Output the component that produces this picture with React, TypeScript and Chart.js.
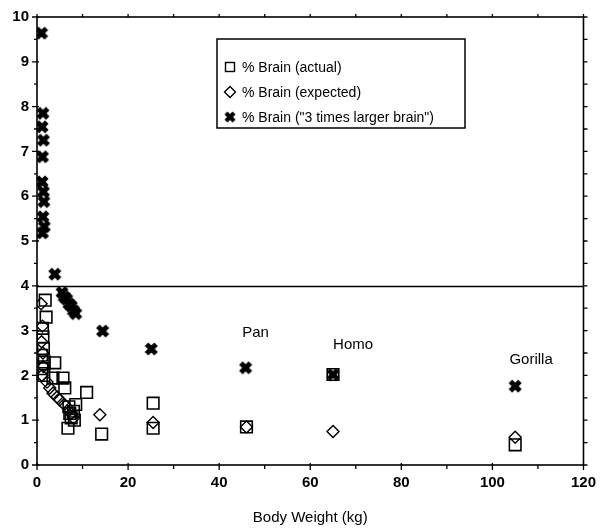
import React, { useEffect, useRef } from 'react';
import { Chart, registerables } from 'chart.js';

Chart.register(...registerables);

// % Brain (actual)
const actualX = [1.2, 1.8, 2.0, 1.3, 1.4, 1.0, 1.6, 1.1, 1.5, 3.9, 3.5, 5.7, 6.1, 10.9, 7.0, 8.0, 7.5, 8.5, 7.2, 8.2, 6.8, 14.2, 25.5, 25.5, 46, 65, 105];
const actualY = [3.05, 3.68, 3.3, 2.86, 2.6, 2.45, 2.3, 2.15, 2.0, 2.28, 1.94, 1.94, 1.72, 1.62, 1.3, 1.2, 1.05, 1.35, 1.15, 1.0, 0.82, 0.69, 1.38, 0.82, 0.85, 2.02, 0.45];

// % Brain (expected)
const expectedX = [0.9, 1.2, 1.0, 1.3, 1.4, 1.1, 2.2, 2.8, 3.5, 4.4, 5.0, 6.0, 7.0, 7.5, 8.0, 13.8, 25.5, 46, 65, 105];
const expectedY = [3.6, 3.1, 2.75, 2.5, 2.2, 2.0, 1.85, 1.72, 1.6, 1.52, 1.45, 1.35, 1.25, 1.15, 1.05, 1.12, 0.95, 0.85, 0.75, 0.62];

// % Brain ("3 times larger brain")
const tripleX = [1.0, 1.3, 1.1, 1.4, 1.2, 1.1, 1.4, 1.5, 1.3, 1.6, 1.2, 3.9, 5.5, 6.0, 6.5, 7.0, 7.5, 8.0, 8.5, 14.4, 25.1, 45.8, 65, 105];
const tripleY = [9.64, 7.85, 7.55, 7.25, 6.88, 6.32, 6.1, 5.88, 5.54, 5.32, 5.18, 4.26, 3.85, 3.75, 3.7, 3.6, 3.55, 3.45, 3.38, 2.99, 2.59, 2.17, 2.02, 1.76];

const seriesLabels = ['% Brain (actual)', '% Brain (expected)', '% Brain ("3 times larger brain")'];

const referenceLine = 4;

const annotationTexts = ['Pan', 'Homo', 'Gorilla'];
const annotationX = [48, 69.4, 108.5];
const annotationY = [2.95, 2.68, 2.34];

const xTickStep = 20;
const yTickStep = 1;

const FONT = '"Liberation Sans", Arial, sans-serif';

function toPoints(xs: number[], ys: number[]) {
  return xs.map((x, i) => ({ x, y: ys[i] }));
}

function makeCross(size: number): HTMLCanvasElement {
  const c = document.createElement('canvas');
  c.width = size;
  c.height = size;
  const g = c.getContext('2d')!;
  g.strokeStyle = '#000';
  g.lineWidth = size * 0.36;
  g.lineCap = 'butt';
  const m = size * 0.16;
  g.beginPath();
  g.moveTo(m, m);
  g.lineTo(size - m, size - m);
  g.moveTo(size - m, m);
  g.lineTo(m, size - m);
  g.stroke();
  g.fillStyle = '#000';
  g.fillRect(size * 0.28, size * 0.28, size * 0.44, size * 0.44);
  return c;
}

export default function App() {
  const ref = useRef<HTMLCanvasElement | null>(null);

  useEffect(() => {
    if (!ref.current) return;
    const cross = makeCross(14);

    const framePlugin = {
      id: 'frame',
      beforeDatasetsDraw(chart: any) {
        const { ctx, chartArea: a, scales } = chart;
        const xs = scales.x;
        const ys = scales.y;
        ctx.save();
        ctx.strokeStyle = '#000';
        ctx.lineWidth = 1.6;
        const yr = Math.round(ys.getPixelForValue(referenceLine)) + 0.5;
        ctx.beginPath();
        ctx.moveTo(a.left, yr);
        ctx.lineTo(a.right, yr);
        ctx.stroke();
        ctx.strokeRect(a.left, a.top, a.right - a.left, a.bottom - a.top);
        ctx.lineWidth = 1.3;
        ctx.beginPath();
        for (let v = xs.min; v <= xs.max + 1e-6; v += 10) {
          const px = xs.getPixelForValue(v);
          const major = Math.abs(v % 20) < 1e-6;
          ctx.moveTo(px, a.bottom - (major ? 2 : 0));
          ctx.lineTo(px, a.bottom + (major ? 5 : 4));
          ctx.moveTo(px, a.top);
          ctx.lineTo(px, a.top - 3);
        }
        for (let v = ys.min; v <= ys.max + 1e-6; v += 0.5) {
          const py = ys.getPixelForValue(v);
          const major = Math.abs(v % 1) < 1e-6;
          ctx.moveTo(a.left - (major ? 5 : 3), py);
          ctx.lineTo(a.left + (major ? 2 : 0), py);
          ctx.moveTo(a.right, py);
          ctx.lineTo(a.right + 4, py);
        }
        ctx.stroke();
        ctx.restore();
      },
      afterDatasetsDraw(chart: any) {
        const { ctx, chartArea: a, scales } = chart;
        ctx.save();
        ctx.fillStyle = '#000';
        ctx.textBaseline = 'middle';
        ctx.textAlign = 'center';
        ctx.font = `15px ${FONT}`;
        annotationTexts.forEach((t, i) => {
          ctx.fillText(t, scales.x.getPixelForValue(annotationX[i]), scales.y.getPixelForValue(annotationY[i]));
        });
        const lx = a.left + 180;
        const ly = a.top + 22;
        const lw = 248;
        const lh = 89;
        ctx.fillStyle = '#fff';
        ctx.fillRect(lx, ly, lw, lh);
        ctx.strokeStyle = '#000';
        ctx.lineWidth = 1.5;
        ctx.strokeRect(lx, ly, lw, lh);
        ctx.font = `14px ${FONT}`;
        ctx.textAlign = 'left';
        ctx.fillStyle = '#000';
        const rows = [ly + 28, ly + 53, ly + 78];
        const mx = lx + 13;
        rows.forEach((ry, i) => {
          ctx.lineWidth = 1.4;
          if (i === 0) {
            ctx.strokeRect(mx - 4.5, ry - 4.5, 9, 9);
          } else if (i === 1) {
            ctx.beginPath();
            ctx.moveTo(mx, ry - 5.5);
            ctx.lineTo(mx + 5.5, ry);
            ctx.lineTo(mx, ry + 5.5);
            ctx.lineTo(mx - 5.5, ry);
            ctx.closePath();
            ctx.stroke();
          } else {
            ctx.drawImage(cross, mx - 6, ry - 6, 12, 12);
          }
          ctx.fillText(seriesLabels[i], mx + 12, ry + 1);
        });
        ctx.restore();
      },
    };

    const chart = new Chart(ref.current, {
      type: 'scatter',
      data: {
        datasets: [
          {
            label: seriesLabels[2],
            data: toPoints(tripleX, tripleY),
            pointStyle: cross as any,
            pointRadius: 7,
            borderColor: '#000',
            backgroundColor: '#000',
          },
          {
            label: seriesLabels[0],
            data: toPoints(actualX, actualY),
            pointStyle: 'rect',
            pointRadius: 8.2,
            borderWidth: 1.6,
            borderColor: '#000',
            backgroundColor: 'rgba(0,0,0,0)',
          },
          {
            label: seriesLabels[1],
            data: toPoints(expectedX, expectedY),
            pointStyle: 'rectRot',
            pointRadius: 6,
            borderWidth: 1.4,
            borderColor: '#000',
            backgroundColor: 'rgba(0,0,0,0)',
          },
        ],
      },
      options: {
        animation: false,
        responsive: false,
        layout: { padding: { top: 17, right: 19, left: 0, bottom: 0 } },
        plugins: { legend: { display: false }, tooltip: { enabled: false } },
        scales: {
          x: {
            type: 'linear',
            min: 0,
            max: 120,
            grid: { display: false, drawTicks: false },
            border: { display: false },
            ticks: { stepSize: xTickStep, padding: 9, color: '#000', font: { family: FONT, size: 15, weight: 'bold' } },
            title: {
              display: true,
              text: 'Body Weight (kg)',
              color: '#000',
              font: { family: FONT, size: 15 },
              padding: { top: 0, bottom: 4 },
            },
            afterFit(s: any) {
              s.height = 66;
            },
          },
          y: {
            type: 'linear',
            min: 0,
            max: 10,
            grid: { display: false, drawTicks: false },
            border: { display: false },
            ticks: { stepSize: yTickStep, padding: 8, color: '#000', font: { family: FONT, size: 15, weight: 'bold' } },
            afterFit(s: any) {
              s.width = 37;
            },
          },
        },
      },
      plugins: [framePlugin],
    });
    return () => chart.destroy();
  }, []);

  return (
    <div style={{ position: 'fixed', left: 0, top: 0, width: 605, height: 531, background: '#fff' }}>
      <canvas ref={ref} width={605} height={531} style={{ display: 'block' }} />
    </div>
  );
}
